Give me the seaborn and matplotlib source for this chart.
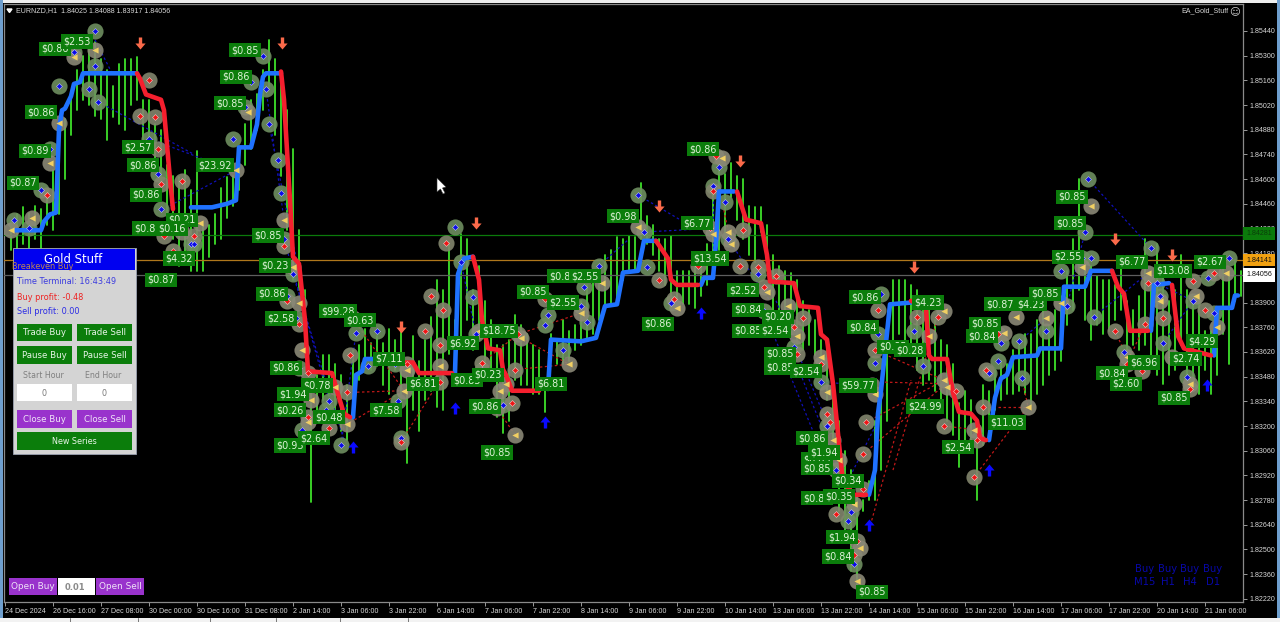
import numpy as np
import pandas as pd
import seaborn as sns
import matplotlib
matplotlib.use("Agg")
import matplotlib.pyplot as plt
from matplotlib.patches import Rectangle, Polygon
from matplotlib.path import Path

# all prices below are in 1e-4 units (18440 = 1.84400), x is the bar number on H1
date_labels = ["24 Dec 2024", "26 Dec 16:00", "27 Dec 08:00", "30 Dec 00:00", "30 Dec 16:00", "31 Dec 08:00",
               "2 Jan 14:00", "3 Jan 06:00", "3 Jan 22:00", "6 Jan 14:00", "7 Jan 06:00", "7 Jan 22:00",
               "8 Jan 14:00", "9 Jan 06:00", "9 Jan 22:00", "10 Jan 14:00", "13 Jan 06:00", "13 Jan 22:00",
               "14 Jan 14:00", "15 Jan 06:00", "15 Jan 22:00", "16 Jan 14:00", "17 Jan 06:00", "17 Jan 22:00",
               "20 Jan 14:00", "21 Jan 06:00"]
price_ticks = [1.85440, 1.85300, 1.85160, 1.85020, 1.84880, 1.84740, 1.84600, 1.84460, 1.84320, 1.84180,
               1.84040, 1.83900, 1.83760, 1.83620, 1.83480, 1.83340, 1.83200, 1.83060, 1.82920, 1.82780,
               1.82640, 1.82500, 1.82360, 1.82220]

candle_bars = list(range(2, 414, 2))
candle_high = [18436, 18440, 18444, 18441, 18445, 18443, 18454, 18465, 18482, 18494, 18508, 18522,
               18530, 18539, 18538, 18528, 18522, 18513, 18525, 18528, 18528, 18529, 18505, 18505,
               18491, 18488, 18468, 18462, 18461, 18465, 18454, 18476, 18434, 18434, 18440, 18455,
               18461, 18462, 18474, 18491, 18505, 18508, 18522, 18539, 18528, 18519, 18499, 18477,
               18431, 18397, 18346, 18349, 18360, 18360, 18355, 18349, 18343, 18363, 18366, 18375,
               18367, 18371, 18367, 18375, 18369, 18375, 18348, 18371, 18357, 18369, 18382, 18403,
               18397, 18424, 18380, 18429, 18426, 18397, 18411, 18391, 18380, 18366, 18366, 18369,
               18383, 18377, 18372, 18366, 18363, 18340, 18372, 18369, 18380, 18374, 18377, 18391,
               18400, 18406, 18408, 18417, 18420, 18427, 18426, 18428, 18427, 18458, 18439, 18434,
               18426, 18426, 18428, 18408, 18408, 18408, 18411, 18412, 18423, 18451, 18465, 18463,
               18469, 18462, 18460, 18445, 18444, 18444, 18434, 18417, 18411, 18408, 18407, 18403,
               18391, 18386, 18380, 18369, 18366, 18340, 18323, 18306, 18295, 18281, 18278, 18289,
               18323, 18340, 18363, 18403, 18403, 18403, 18400, 18397, 18391, 18386, 18380, 18369,
               18366, 18355, 18333, 18340, 18335, 18323, 18343, 18340, 18352, 18357, 18355, 18363,
               18366, 18372, 18372, 18380, 18386, 18377, 18386, 18391, 18408, 18426, 18460, 18408,
               18411, 18405, 18403, 18403, 18400, 18414, 18391, 18386, 18394, 18426, 18403, 18423,
               18408, 18391, 18397, 18417, 18397, 18391, 18391, 18374, 18374, 18369, 18411, 18406,
               18414, 18408]
candle_low = [18420, 18417, 18423, 18420, 18426, 18420, 18434, 18431, 18440, 18460, 18485, 18499,
              18505, 18502, 18496, 18494, 18482, 18495, 18491, 18488, 18502, 18505, 18482, 18477,
              18468, 18457, 18440, 18426, 18411, 18417, 18408, 18408, 18408, 18416, 18423, 18426,
              18438, 18445, 18454, 18468, 18477, 18488, 18499, 18511, 18485, 18462, 18431, 18403,
              18397, 18369, 18277, 18323, 18335, 18337, 18323, 18317, 18312, 18335, 18346, 18353,
              18352, 18354, 18343, 18338, 18352, 18329, 18299, 18329, 18317, 18335, 18340, 18331,
              18329, 18361, 18363, 18366, 18380, 18363, 18372, 18346, 18352, 18325, 18316, 18323,
              18346, 18343, 18343, 18338, 18338, 18328, 18358, 18355, 18355, 18357, 18363, 18366,
              18369, 18372, 18380, 18386, 18389, 18389, 18403, 18408, 18408, 18426, 18423, 18417,
              18408, 18400, 18391, 18391, 18389, 18389, 18387, 18394, 18400, 18408, 18420, 18426,
              18450, 18437, 18426, 18417, 18413, 18430, 18408, 18380, 18377, 18372, 18372, 18366,
              18363, 18366, 18360, 18349, 18335, 18312, 18272, 18261, 18238, 18224, 18272, 18278,
              18278, 18295, 18323, 18369, 18372, 18369, 18363, 18352, 18343, 18346, 18340, 18335,
              18323, 18315, 18297, 18312, 18312, 18278, 18309, 18318, 18329, 18335, 18338, 18338,
              18340, 18338, 18332, 18338, 18343, 18349, 18352, 18357, 18377, 18386, 18397, 18380,
              18369, 18377, 18372, 18374, 18380, 18386, 18360, 18366, 18363, 18366, 18355, 18349,
              18344, 18349, 18352, 18366, 18338, 18343, 18338, 18352, 18338, 18349, 18372, 18355,
              18391, 18394]

# trend line, one list per leg
blue_leg_bars = [[3, 12, 13, 15, 17, 18, 19, 20, 22, 23, 25, 26, 44],
                 [62, 69, 74, 77, 78, 82, 84, 85, 86, 87, 92],
                 [116, 117, 119, 120, 131],
                 [150, 151, 152, 153, 156],
                 [181, 182, 192, 197, 200, 204, 206, 211, 213, 217],
                 [232, 233, 236, 237, 238, 243],
                 [288, 290, 291, 292, 295, 302],
                 [328, 330, 331, 332, 334, 336, 344, 345, 352, 353, 360, 362, 369],
                 [382, 383, 388],
                 [403, 404, 409, 410, 411]]
blue_leg_price = [[18431, 18431, 18436, 18440, 18441, 18488, 18499, 18500, 18507, 18514, 18515, 18520, 18520],
                  [18444, 18444, 18446, 18448, 18478, 18478, 18491, 18508, 18518, 18520, 18520],
                  [18325, 18349, 18351, 18358, 18358],
                  [18350, 18406, 18411, 18415, 18416],
                  [18341, 18369, 18368, 18370, 18388, 18389, 18407, 18408, 18425, 18425],
                  [18400, 18404, 18404, 18424, 18453, 18453],
                  [18281, 18295, 18327, 18340, 18389, 18390],
                  [18312, 18336, 18342, 18347, 18349, 18359, 18360, 18364, 18364, 18399, 18399, 18408, 18408],
                  [18374, 18400, 18401],
                  [18360, 18387, 18387, 18394, 18394]]
red_leg_bars = [[44, 45, 47, 52, 53, 55, 56],
                [92, 93, 95, 96, 98, 100, 101, 109, 111, 113, 115],
                [131, 133, 136, 138, 149],
                [156, 158, 159, 161, 165, 166, 167, 169, 178],
                [217, 221, 222, 224, 231],
                [244, 247, 252, 254, 255, 263, 265, 271, 272, 274, 276, 279, 281, 283, 287],
                [302, 307, 308, 309, 314, 316, 318, 322, 324, 325, 327],
                [369, 371, 373, 375, 381],
                [389, 391, 393, 402]]
red_leg_price = [[18520, 18517, 18508, 18505, 18499, 18460, 18443],
                 [18521, 18505, 18448, 18416, 18412, 18380, 18351, 18350, 18338, 18327, 18325],
                 [18356, 18356, 18356, 18350, 18350],
                 [18416, 18403, 18380, 18364, 18363, 18352, 18349, 18340, 18340],
                 [18425, 18415, 18403, 18400, 18400],
                 [18453, 18437, 18435, 18417, 18402, 18401, 18388, 18387, 18372, 18369, 18344, 18293, 18285, 18281, 18281],
                 [18391, 18387, 18360, 18358, 18358, 18339, 18328, 18327, 18323, 18313, 18312],
                 [18408, 18399, 18395, 18374, 18374],
                 [18400, 18371, 18364, 18360]]

# order markers
blue_dot_bars = [12, 3, 8, 15, 18, 23, 30, 30, 28, 31, 48, 51, 52, 76, 80, 82, 87, 86, 88, 91, 92, 62, 63, 93, 96,
                 94, 97, 98, 108, 107, 99, 112, 117, 124, 121, 130, 131, 132, 150, 152, 156, 157, 159, 163, 166,
                 181, 180, 186, 192, 194, 193, 198, 211, 213, 214, 222, 238, 236, 240, 241, 251, 253, 263, 272,
                 274, 277, 282, 281, 283, 290, 291, 292, 303, 306, 328, 331, 332, 338, 339, 347, 354, 352, 363,
                 373, 384, 385, 386, 382, 396, 394, 403, 401, 408, 361, 360, 359, 362]
blue_dot_price = [18454, 18437, 18432, 18477, 18513, 18532, 18544, 18524, 18511, 18504, 18483, 18463, 18443, 18483,
                  18501, 18515, 18511, 18530, 18491, 18471, 18452, 18423, 18423, 18426, 18406, 18394, 18381, 18353,
                  18334, 18329, 18318, 18309, 18373, 18374, 18354, 18355, 18334, 18313, 18433, 18413, 18393, 18372,
                  18352, 18332, 18332, 18383, 18377, 18363, 18388, 18379, 18399, 18411, 18451, 18430, 18410, 18390,
                  18467, 18456, 18447, 18426, 18406, 18385, 18365, 18345, 18320, 18295, 18271, 18266, 18242, 18356,
                  18372, 18395, 18374, 18354, 18350, 18357, 18367, 18368, 18347, 18374, 18388, 18408, 18382, 18362,
                  18401, 18394, 18367, 18421, 18391, 18348, 18384, 18404, 18415, 18460, 18430, 18415, 18415]
red_dot_bars = [14, 48, 45, 50, 51, 52, 59, 53, 63, 56, 93, 94, 98, 101, 101, 108, 114, 115, 116, 134, 132, 142,
                146, 140, 145, 145, 147, 171, 159, 170, 164, 169, 180, 218, 223, 231, 235, 246, 245, 237, 236,
                251, 257, 253, 266, 263, 264, 272, 274, 275, 286, 286, 287, 289, 290, 291, 277, 284, 283, 304,
                311, 317, 313, 324, 323, 326, 327, 331, 370, 374, 379, 380, 381, 386, 396, 400, 403, 395]
red_dot_price = [18451, 18516, 18496, 18495, 18477, 18457, 18459, 18428, 18428, 18419, 18422, 18391, 18378, 18350,
                 18325, 18319, 18339, 18360, 18381, 18355, 18311, 18394, 18386, 18374, 18366, 18345, 18424, 18372,
                 18356, 18352, 18330, 18333, 18392, 18403, 18392, 18411, 18432, 18431, 18411, 18473, 18453, 18410,
                 18405, 18399, 18381, 18376, 18361, 18355, 18327, 18322, 18284, 18304, 18322, 18343, 18363, 18386,
                 18270, 18255, 18247, 18382, 18382, 18340, 18320, 18312, 18291, 18331, 18352, 18372, 18374, 18355,
                 18351, 18378, 18401, 18381, 18402, 18386, 18407, 18341]
close_bars = [9, 2, 15, 18, 23, 30, 77, 81, 93, 65, 59, 96, 98, 99, 110, 102, 101, 114, 134, 133, 145, 158, 172,
              167, 165, 170, 188, 192, 199, 211, 224, 236, 239, 241, 242, 254, 261, 264, 272, 274, 276, 278, 290,
              283, 285, 284, 308, 313, 313, 314, 323, 333, 337, 341, 347, 352, 362, 359, 374, 381, 385, 389, 397,
              404, 407, 395]
close_price = [18438, 18431, 18469, 18492, 18529, 18533, 18465, 18498, 18437, 18435, 18430, 18410, 18390, 18363,
               18342, 18335, 18322, 18321, 18352, 18340, 18354, 18374, 18370, 18344, 18340, 18315, 18355, 18384,
               18401, 18433, 18387, 18429, 18472, 18430, 18423, 18396, 18388, 18371, 18359, 18339, 18312, 18301,
               18338, 18276, 18251, 18232, 18371, 18385, 18346, 18342, 18318, 18373, 18382, 18331, 18381, 18390,
               18445, 18410, 18359, 18407, 18391, 18359, 18394, 18376, 18407, 18344]

# dotted lines joining orders: start bar, start price, end bar, end price
blue_trades = [(30, 18539, 36, 18519), (31, 18504, 63, 18474), (48, 18483, 76, 18465), (55, 18445, 77, 18465),
               (87, 18511, 93, 18437), (88, 18491, 100, 18391), (93, 18426, 108, 18335), (96, 18406, 113, 18312),
               (117, 18373, 112, 18309), (152, 18413, 157, 18372), (211, 18451, 228, 18434), (198, 18411, 208, 18426),
               (213, 18430, 235, 18432), (236, 18456, 236, 18414), (241, 18426, 255, 18391), (253, 18385, 272, 18306),
               (257, 18391, 275, 18318), (262, 18363, 278, 18295), (272, 18345, 287, 18343), (281, 18289, 291, 18323),
               (361, 18460, 382, 18421), (363, 18382, 382, 18408), (384, 18401, 396, 18391), (386, 18367, 396, 18391),
               (338, 18368, 347, 18381), (354, 18388, 360, 18430)]
red_trades = [(114, 18339, 133, 18340), (116, 18381, 133, 18340), (132, 18311, 145, 18346), (133, 18340, 114, 18321),
              (159, 18356, 171, 18372), (164, 18330, 170, 18315), (170, 18352, 188, 18355), (172, 18370, 188, 18355),
              (171, 18372, 192, 18384), (290, 18363, 313, 18346), (290, 18345, 313, 18344), (286, 18304, 313, 18343),
              (287, 18322, 313, 18346), (288, 18261, 302, 18346), (296, 18295, 311, 18382), (313, 18320, 323, 18318),
              (323, 18291, 341, 18331), (326, 18331, 341, 18331), (339, 18347, 341, 18331), (370, 18374, 374, 18359),
              (380, 18378, 374, 18355), (239, 18448, 241, 18431)]

down_arrow_bars = [45, 92.3, 132, 157, 218, 245, 303, 370, 389]
down_arrow_price = [18537, 18537, 18376, 18435, 18445, 18470, 18410, 18426, 18417]
up_arrow_bars = [116, 150, 180, 232, 288, 328, 400.7]
up_arrow_price = [18308, 18330, 18322, 18384, 18264, 18295, 18343]

# profit labels, later ones sit on top of earlier ones
profit_text = ["$0.86", "$2.53", "$0.86", "$0.89", "$0.87", "$2.57", "$0.86", "$0.86", "$23.92", "$0.85", "$0.86",
               "$0.85", "$0.21", "$0.85", "$0.16", "$0.85", "$4.32", "$0.87", "$0.23", "$0.86", "$2.58", "$0.86",
               "$0.78", "$1.94", "$0.26", "$0.93", "$2.64", "$0.48", "$99.28", "$0.63", "$7.11", "$7.58", "$6.81",
               "$6.92", "$0.85", "$18.75", "$0.23", "$0.86", "$0.85", "$6.81", "$0.85", "$2.55", "$0.85", "$2.55",
               "$0.98", "$6.77", "$13.54", "$0.86", "$0.86", "$2.52", "$0.84", "$0.85", "$2.54", "$0.20", "$0.85",
               "$0.85", "$2.54", "$59.77", "$0.86", "$0.85", "$1.94", "$0.85", "$0.34", "$0.85", "$0.35", "$1.94",
               "$0.84", "$0.85", "$0.86", "$0.84", "$0.85", "$0.28", "$4.23", "$24.99", "$2.54", "$11.03", "$0.85",
               "$0.84", "$0.87", "$4.23", "$0.85", "$0.85", "$0.85", "$2.55", "$6.77", "$13.08", "$2.67", "$6.96",
               "$0.84", "$2.60", "$4.29", "$2.74", "$0.85"]
profit_bars = [16.7, 24, 12, 10, 6, 44.3, 46, 47, 70, 80, 77, 75, 59, 47.7, 55.7, 87.7, 58, 52, 90, 89, 92, 93.7,
               104, 96, 95, 95, 103, 108, 111, 118.3, 128, 127, 139.3, 152.7, 154, 164.7, 161, 160, 164, 182, 176,
               186, 186, 193.3, 206, 230.7, 235, 217.7, 232.7, 246, 247.7, 247.7, 256.7, 257.7, 258.3, 258.3, 267,
               284.3, 269, 270.7, 273, 270.7, 281, 270.7, 278, 279, 277.7, 289, 286.7, 286, 296, 301.7, 307.7,
               306.7, 317.7, 334, 326.7, 325.7, 331.7, 342, 346.7, 355.7, 355, 354.3, 375.7, 389.3, 401.7, 379.7,
               369, 373.7, 399, 393.7, 389.7]
profit_price = [18534, 18538, 18498, 18476, 18458, 18478, 18468, 18451, 18468, 18533, 18518, 18503, 18437, 18432,
                18432, 18428, 18415, 18403, 18411, 18395, 18381, 18353, 18343, 18338, 18329, 18309, 18313, 18325,
                18385, 18380, 18358, 18329, 18344, 18367, 18346, 18374, 18349, 18331, 18305, 18344, 18396, 18390,
                18405, 18405, 18439, 18435, 18415, 18378, 18477, 18397, 18386, 18374, 18374, 18382, 18361, 18353,
                18351, 18343, 18313, 18301, 18305, 18296, 18289, 18279, 18280, 18257, 18246, 18226, 18393, 18376,
                18365, 18363, 18390, 18331, 18308, 18322, 18378, 18371, 18389, 18389, 18395, 18450, 18435, 18416,
                18413, 18408, 18413, 18356, 18350, 18344, 18368, 18358, 18336]

level_price = [1.84281, 1.84141, 1.84056]
level_color = ["#0b7a0b", "#b0781c", "#5e5e5e"]


def to_price(values):
    return np.array(values) / 1e4


def dot_frame(bars, prices):
    return pd.DataFrame({"bar": bars, "price": to_price(prices)})


def segments_frame(segments):
    rows = []
    for i, (b0, p0, b1, p1) in enumerate(segments):
        rows.append((i, b0, p0 / 1e4))
        rows.append((i, b1, p1 / 1e4))
    return pd.DataFrame(rows, columns=["seg", "bar", "price"])


sns.set_theme(style="dark", rc={"axes.facecolor": "black", "figure.facecolor": "black",
                                "axes.edgecolor": "#8a8a8a", "axes.linewidth": 0.9,
                                "xtick.bottom": True, "ytick.right": True})
plt.rcParams["font.family"] = ["DejaVu Sans"]

fig = plt.figure(figsize=(12.8, 6.22), dpi=100)
ax = fig.add_axes([4 / 1280, 1 - 602 / 622, 1239 / 1280, 598 / 622])

# candles
candles = pd.DataFrame({"bar": candle_bars * 2, "price": to_price(candle_high + candle_low)})
sns.lineplot(data=candles, x="bar", y="price", units="bar", estimator=None, sort=False,
             color="#3ee02a", alpha=1.0, linewidth=1.3, ax=ax, zorder=2)

for price, col in zip(level_price, level_color):
    ax.axhline(price, color=col, linewidth=0.9, zorder=3)

# trade lines
sns.lineplot(data=segments_frame(blue_trades), x="bar", y="price", units="seg", estimator=None, sort=False,
             color="#1010b8", alpha=1.0, linewidth=0.9, linestyle=(0, (2, 2)), ax=ax, zorder=3)
sns.lineplot(data=segments_frame(red_trades), x="bar", y="price", units="seg", estimator=None, sort=False,
             color="#c01818", alpha=1.0, linewidth=0.9, linestyle=(0, (2, 2)), ax=ax, zorder=3)

# trend
for bars, prices in zip(blue_leg_bars, blue_leg_price):
    sns.lineplot(x=bars, y=to_price(prices), sort=False, estimator=None, color="#1f72ff", linewidth=3.3,
                 ax=ax, zorder=5, solid_joinstyle="round")
for bars, prices in zip(red_leg_bars, red_leg_price):
    sns.lineplot(x=bars, y=to_price(prices), sort=False, estimator=None, color="#f51f2e", linewidth=3.3,
                 ax=ax, zorder=5, solid_joinstyle="round")

# order dots with their halos
sns.scatterplot(data=dot_frame(blue_dot_bars, blue_dot_price), x="bar", y="price", s=135, color="#6f8f60",
                alpha=0.9, linewidth=0, ax=ax, zorder=4, legend=False)
sns.scatterplot(data=dot_frame(red_dot_bars, red_dot_price), x="bar", y="price", s=135, color="#83866e",
                alpha=0.9, linewidth=0, ax=ax, zorder=4, legend=False)
sns.scatterplot(data=dot_frame(close_bars, close_price), x="bar", y="price", s=135, color="#8a8877",
                alpha=0.9, linewidth=0, ax=ax, zorder=4, legend=False)
sns.scatterplot(data=dot_frame(close_bars, close_price), x="bar", y="price", s=20, color="#f0cf63", marker="<",
                linewidth=0, ax=ax, zorder=6, legend=False)
sns.scatterplot(data=dot_frame(blue_dot_bars, blue_dot_price), x="bar", y="price", s=9, color="#0a0ae6", marker="D",
                edgecolor="#cfd8ff", linewidth=0.35, ax=ax, zorder=6, legend=False)
sns.scatterplot(data=dot_frame(red_dot_bars, red_dot_price), x="bar", y="price", s=9, color="#ee1414", marker="D",
                edgecolor="#ffd8d8", linewidth=0.35, ax=ax, zorder=6, legend=False)

# signal arrows
arrow_up = Path([(-0.28, -1), (0.28, -1), (0.28, 0), (0.85, 0), (0, 1), (-0.85, 0), (-0.28, 0), (-0.28, -1)])
arrow_down = Path([(-0.28, 1), (0.28, 1), (0.28, 0), (0.85, 0), (0, -1), (-0.85, 0), (-0.28, 0), (-0.28, 1)])
sns.scatterplot(x=down_arrow_bars, y=to_price(down_arrow_price), s=75, color="#fb6a4a", marker=arrow_down,
                linewidth=0, ax=ax, zorder=7, legend=False)
sns.scatterplot(x=up_arrow_bars, y=to_price(up_arrow_price), s=75, color="#0a0aff", marker=arrow_up,
                linewidth=0, ax=ax, zorder=7, legend=False)

for i, (txt, b, p) in enumerate(zip(profit_text, profit_bars, to_price(profit_price))):
    ax.text(b, p, txt, fontsize=6.9, color="#dff3d8", ha="center", va="center", zorder=8 + i * 0.01,
            bbox=dict(boxstyle="square,pad=0.22", fc="#0b7d0b", ec="none"))

# axes
ax.set_xlim(-0.33, 412.67)
ax.set_ylim(1.82202, 1.85593)
ax.set_xlabel("")
ax.set_ylabel("")
ax.set_xticks(np.arange(len(date_labels)) * 16)
ax.set_xticklabels(date_labels, fontsize=5.1, color="#d8d8d8", ha="left", family="Liberation Sans")
ax.yaxis.tick_right()
ax.set_yticks(price_ticks)
ax.set_yticklabels(["%.5f" % v for v in price_ticks], fontsize=5.1, color="#d8d8d8", family="Liberation Sans")
ax.tick_params(axis="both", length=3, width=0.7, color="#9a9a9a", pad=1.5)
ax.grid(False)

# everything that is terminal furniture goes on an overlay in screen pixels
ui = fig.add_axes([0, 0, 1, 1], facecolor="none")
ui.set_xlim(0, 1280)
ui.set_ylim(622, 0)
ui.axis("off")


def box(x0, y0, x1, y1, col, z=10, ec="none"):
    ui.add_patch(Rectangle((x0, y0), x1 - x0, y1 - y0, facecolor=col, edgecolor=ec, linewidth=0.6, zorder=z))


def label(x, y, txt, col="white", size=6.2, ha="center", z=11, **kw):
    ui.text(x, y, txt, color=col, fontsize=size, ha=ha, va="center", zorder=z, **kw)


# window edges and tab strip
box(0, 0, 1280, 3, "#eeeeee", z=1)
box(0, 0, 3, 622, "#6f9fce", z=1)
box(1277, 0, 1280, 622, "#6f9fce", z=1)
box(0, 618, 1280, 622, "#f2f2f2", z=1)
for tab_x in [70, 138, 210, 276, 340, 408]:
    ui.plot([tab_x, tab_x], [618, 622], color="#777777", lw=0.7, zorder=2)

# chart captions
ui.add_patch(Polygon([(7, 9), (12, 9), (9.5, 12.5)], facecolor="#e8e8e8", zorder=11))
label(16, 11, "EURNZD,H1  1.84025 1.84088 1.83917 1.84056", "#d8d8d8", 5.1, "left", family="Liberation Sans")
label(1229, 11, "EA_Gold_Stuff", "#d8d8d8", 5.1, "right", family="Liberation Sans")
label(1235, 11, "\u263a", "#d8d8d8", 7.5)

# price flags
box(1243, 227, 1275, 240, "#0b7a0b")
label(1259, 233.5, "1.84281", "#0a3d0a", 5.1, family="Liberation Sans")
box(1243, 254, 1275, 266, "#f0a010")
label(1259, 260, "1.84141", "#101010", 5.1, family="Liberation Sans")
box(1243, 268, 1275, 282, "white")
label(1259, 275, "1.84056", "#101010", 5.1, family="Liberation Sans")

# mouse pointer
ui.add_patch(Polygon([(437, 178), (437, 192), (440.5, 189), (443, 194), (445, 193), (442.5, 188), (446, 187)],
                     facecolor="white", edgecolor="#333333", linewidth=0.4, zorder=11))

# signal table
for sx, tf in zip([1145, 1168, 1190, 1213], ["M15", "H1", "H4", "D1"]):
    label(sx, 569, "Buy", "#0808a8", 7.2)
    label(sx, 582, tf, "#0808a8", 7.2)

# Gold Stuff panel
box(13, 248, 136, 454, "#d4d4d4", ec="#9aa0b0")
box(14, 249, 135, 270, "#0000f0")
label(73, 259.5, "Gold Stuff", "white", 8.4)
label(12, 266.5, "Breakeven Buy", "#c08850", 5.9, "left")
label(17, 281, "Time Terminal: 16:43:49", "#3a3adf", 5.9, "left")
label(17, 297, "Buy profit: -0.48", "#ee2222", 5.9, "left")
label(17, 311, "Sell profit: 0.00", "#2a2ae6", 5.9, "left")

for x0, x1, txt1, txt2 in [(17, 72, "Trade Buy", "Pause Buy"), (77, 132, "Trade Sell", "Pause Sell")]:
    box(x0, 324, x1, 341, "#0b7d0b")
    label((x0 + x1) / 2, 332.5, txt1, "#e8f5e8", 6.2)
    box(x0, 346, x1, 364, "#0b7d0b")
    label((x0 + x1) / 2, 355, txt2, "#e8f5e8", 6.2)
label(43, 376, "Start Hour", "#808080", 5.7)
label(103, 376, "End Hour", "#808080", 5.7)
for x0, x1, txt in [(17, 72, "Close Buy"), (77, 132, "Close Sell")]:
    box(x0, 384, x1, 401, "white")
    label((x0 + x1) / 2, 393, "0", "#777777", 5.7)
    box(x0, 410, x1, 428, "#9933cc")
    label((x0 + x1) / 2, 419, txt, "#f0e4f8", 6.2)
box(17, 432, 132, 450, "#0b7d0b")
label(74.5, 441, "New Series", "#e8f5e8", 5.8)

# one click trading strip
box(9, 578, 57, 595, "#9933cc")
label(33, 586.5, "Open Buy", "#f0e4f8", 6.4)
box(58, 578, 95, 595, "white")
label(75, 587, "0.01", "#8a8a8a", 6.0, fontweight="bold")
box(96, 578, 144, 595, "#9933cc")
label(120, 586.5, "Open Sell", "#f0e4f8", 6.4)

fig.savefig("out.png", dpi=100, facecolor="black")
